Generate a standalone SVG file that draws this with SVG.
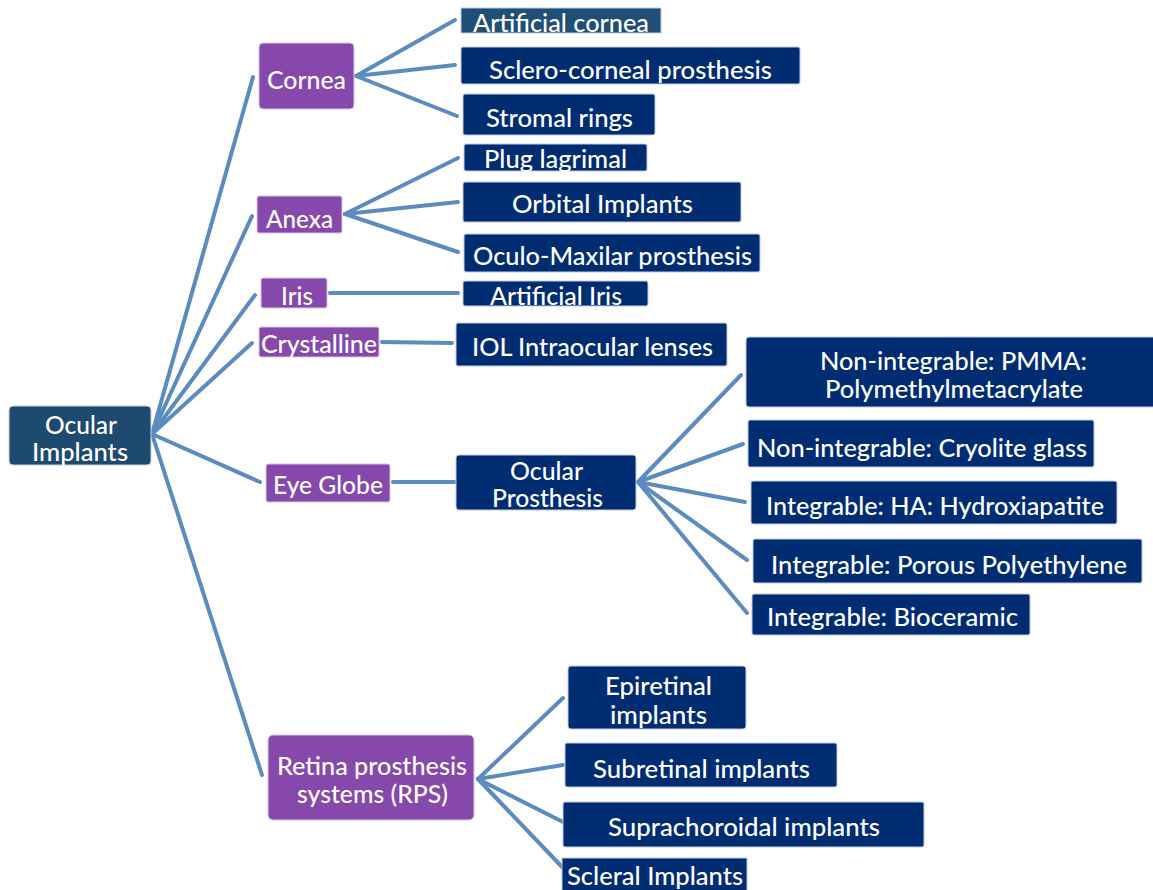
<svg xmlns="http://www.w3.org/2000/svg" width="1153" height="890" viewBox="0 0 1153 890">
<style>
.root{fill:#1f4a6f;stroke:#c9d3e0;stroke-width:1}
.cat{fill:#8649ab;stroke:#d9c7e6;stroke-width:1}
.leaf{fill:#002d72;stroke:#c3cce0;stroke-width:1}
.leaf2{fill:#1f4e76;stroke:#c3cce0;stroke-width:1}
text{font-family:Lato,"Open Sans","Liberation Sans",sans-serif;font-size:24px;fill:#ffffff;font-weight:500}
.conn line{stroke:#5b8bbf;stroke-width:4;stroke-linecap:round}
</style>
<rect width="1153" height="890" fill="#ffffff"/>
<g class="conn" id="connectors">
<line x1="152" y1="434" x2="253" y2="77"/>
<line x1="152" y1="434" x2="252" y2="216"/>
<line x1="152" y1="434" x2="255" y2="295"/>
<line x1="152" y1="434" x2="252" y2="343"/>
<line x1="152" y1="434" x2="260" y2="482"/>
<line x1="152" y1="434" x2="262" y2="775"/>
<line x1="356" y1="76" x2="455" y2="20"/>
<line x1="356" y1="76" x2="455" y2="65"/>
<line x1="356" y1="76" x2="457" y2="116"/>
<line x1="345" y1="214" x2="458" y2="158"/>
<line x1="345" y1="214" x2="458" y2="202"/>
<line x1="345" y1="214" x2="458" y2="252"/>
<line x1="330" y1="293" x2="458" y2="293"/>
<line x1="382" y1="342" x2="452" y2="343"/>
<line x1="393" y1="482" x2="455" y2="482"/>
<line x1="638" y1="482" x2="741" y2="375"/>
<line x1="638" y1="482" x2="743" y2="444"/>
<line x1="638" y1="482" x2="745" y2="502"/>
<line x1="638" y1="482" x2="747" y2="560"/>
<line x1="638" y1="482" x2="747" y2="613"/>
<line x1="478" y1="779" x2="563" y2="698"/>
<line x1="478" y1="779" x2="563" y2="765"/>
<line x1="478" y1="779" x2="563" y2="822"/>
<line x1="478" y1="779" x2="563" y2="868"/>
</g>
<g id="n-root"><rect class="root" x="9" y="406" width="142" height="59" rx="4"/><text x="45" y="434" textLength="72" lengthAdjust="spacingAndGlyphs">Ocular</text><text x="32" y="461" textLength="96" lengthAdjust="spacingAndGlyphs">Implants</text></g>
<g id="n-cornea"><rect class="cat" x="259" y="43" width="95" height="66" rx="4"/><text x="267" y="89" textLength="79" lengthAdjust="spacingAndGlyphs">Cornea</text></g>
<g id="n-anexa"><rect class="cat" x="257" y="196" width="85" height="37" rx="2"/><text x="266" y="228" textLength="67" lengthAdjust="spacingAndGlyphs">Anexa</text></g>
<g id="n-iris"><rect class="cat" x="261" y="278" width="66" height="30" rx="2"/><text x="281" y="305" textLength="32" lengthAdjust="spacingAndGlyphs">Iris</text></g>
<g id="n-crystalline"><rect class="cat" x="259" y="327" width="120" height="30" rx="2"/><text x="261" y="353" textLength="116" lengthAdjust="spacingAndGlyphs">Crystalline</text></g>
<g id="n-eyeglobe"><rect class="cat" x="266" y="464" width="124" height="38" rx="2"/><text x="273" y="494" textLength="110" lengthAdjust="spacingAndGlyphs">Eye Globe</text></g>
<g id="n-retina"><rect class="cat" x="268" y="735" width="206" height="85" rx="5"/><text x="277" y="775" textLength="190" lengthAdjust="spacingAndGlyphs">Retina prosthesis</text><text x="297" y="803" textLength="151" lengthAdjust="spacingAndGlyphs">systems (RPS)</text></g>
<g id="n-artcornea"><rect class="leaf2" x="461" y="8" width="200" height="25"/><text x="473" y="32" textLength="176" lengthAdjust="spacingAndGlyphs">Artificial cornea</text></g>
<g id="n-sclero"><rect class="leaf" x="461" y="47" width="339" height="37" rx="2"/><text x="489" y="79" textLength="283" lengthAdjust="spacingAndGlyphs">Sclero-corneal prosthesis</text></g>
<g id="n-stromal"><rect class="leaf" x="463" y="94" width="192" height="41" rx="2"/><text x="486" y="127" textLength="147" lengthAdjust="spacingAndGlyphs">Stromal rings</text></g>
<g id="n-plug"><rect class="leaf" x="464" y="144" width="183" height="27" rx="2"/><text x="484" y="168" textLength="143" lengthAdjust="spacingAndGlyphs">Plug lagrimal</text></g>
<g id="n-orbital"><rect class="leaf" x="463" y="182" width="278" height="40" rx="2"/><text x="512" y="213" textLength="181" lengthAdjust="spacingAndGlyphs">Orbital Implants</text></g>
<g id="n-oculomax"><rect class="leaf" x="464" y="234" width="296" height="38" rx="2"/><text x="473" y="265" textLength="279" lengthAdjust="spacingAndGlyphs">Oculo-Maxilar prosthesis</text></g>
<g id="n-artiris"><rect class="leaf" x="463" y="281" width="185" height="25" rx="2"/><text x="490" y="305" textLength="132" lengthAdjust="spacingAndGlyphs">Artificial Iris</text></g>
<g id="n-iol"><rect class="leaf" x="456" y="323" width="271" height="43" rx="2"/><text x="472" y="356" textLength="241" lengthAdjust="spacingAndGlyphs">IOL Intraocular lenses</text></g>
<g id="n-ocularpros"><rect class="leaf" x="456" y="455" width="180" height="55" rx="3"/><text x="510" y="480" textLength="73" lengthAdjust="spacingAndGlyphs">Ocular</text><text x="492" y="507" textLength="111" lengthAdjust="spacingAndGlyphs">Prosthesis</text></g>
<g id="n-pmma"><rect class="leaf" x="746" y="337" width="412" height="70" rx="3"/><text x="820" y="370" textLength="267" lengthAdjust="spacingAndGlyphs">Non-integrable: PMMA:</text><text x="825" y="398" textLength="258" lengthAdjust="spacingAndGlyphs">Polymethylmetacrylate</text></g>
<g id="n-cryolite"><rect class="leaf" x="748" y="420" width="346" height="47" rx="2"/><text x="757" y="457" textLength="330" lengthAdjust="spacingAndGlyphs">Non-integrable: Cryolite glass</text></g>
<g id="n-ha"><rect class="leaf" x="751" y="481" width="366" height="43" rx="2"/><text x="766" y="515" textLength="338" lengthAdjust="spacingAndGlyphs">Integrable: HA: Hydroxiapatite</text></g>
<g id="n-porous"><rect class="leaf" x="753" y="539" width="389" height="44" rx="2"/><text x="771" y="574" textLength="356" lengthAdjust="spacingAndGlyphs">Integrable: Porous Polyethylene</text></g>
<g id="n-bioceramic"><rect class="leaf" x="752" y="594" width="278" height="41" rx="2"/><text x="767" y="626" textLength="251" lengthAdjust="spacingAndGlyphs">Integrable: Bioceramic</text></g>
<g id="n-epiretinal"><rect class="leaf" x="568" y="666" width="178" height="63" rx="3"/><text x="605" y="695" textLength="107" lengthAdjust="spacingAndGlyphs">Epiretinal</text><text x="610" y="724" textLength="97" lengthAdjust="spacingAndGlyphs">implants</text></g>
<g id="n-subretinal"><rect class="leaf" x="565" y="743" width="272" height="44" rx="2"/><text x="593" y="778" textLength="217" lengthAdjust="spacingAndGlyphs">Subretinal implants</text></g>
<g id="n-suprachoroidal"><rect class="leaf" x="563" y="802" width="361" height="45" rx="2"/><text x="608" y="836" textLength="272" lengthAdjust="spacingAndGlyphs">Suprachoroidal implants</text></g>
<g id="n-scleral"><rect class="leaf" x="562" y="858" width="185" height="36"/><text x="567" y="885" textLength="176" lengthAdjust="spacingAndGlyphs">Scleral Implants</text></g>
</svg>
